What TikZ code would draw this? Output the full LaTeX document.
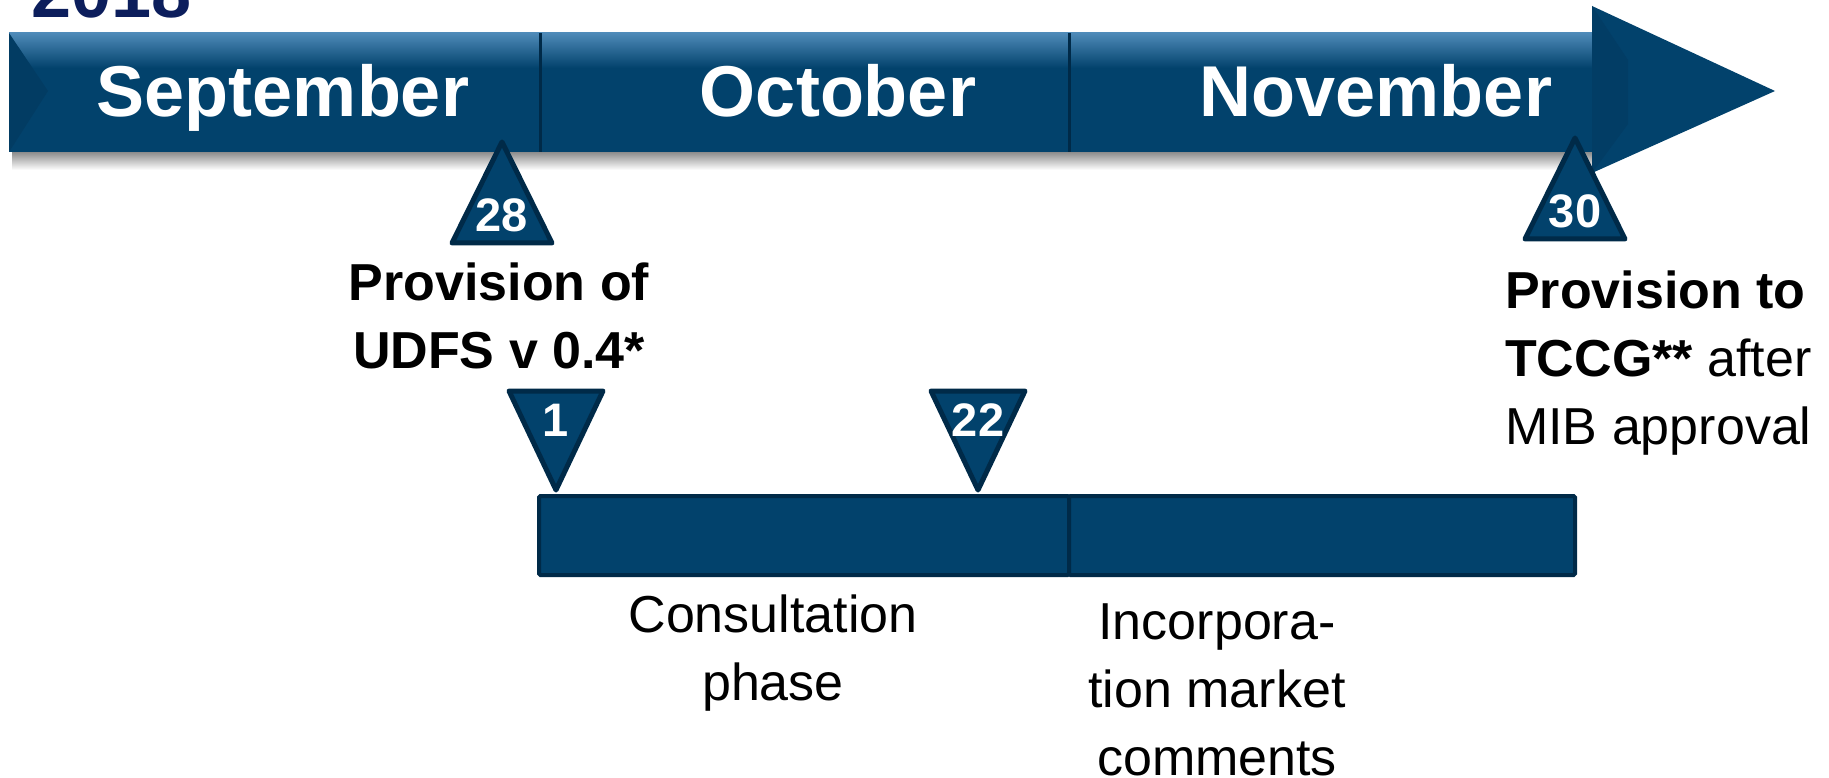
\documentclass[tikz,border=0pt]{standalone}
\usepackage{fontspec}
\setmainfont{Liberation Sans}
\usetikzlibrary{calc}

\definecolor{barblue}{RGB}{2,66,108}
\definecolor{barline}{RGB}{0,42,72}
\definecolor{barlight}{RGB}{78,138,184}
\definecolor{yearblue}{RGB}{12,30,92}

\tikzset{
  month/.style={text=white, font=\fontsize{72}{80}\selectfont\bfseries, anchor=base},
  daynum/.style={text=white, font=\fontsize{47}{50}\selectfont\bfseries, inner sep=0pt},
  caption/.style={font=\fontsize{52}{68}\selectfont, inner sep=0pt},
  marker/.style={fill=barblue, draw=barline, line width=5pt, line join=round},
  phasebar/.style={fill=barblue, draw=barline, line width=4pt, rounded corners=1.5pt},
}

\begin{document}
\begin{tikzpicture}[x=1pt, y=-1pt]
\useasboundingbox (0,0) rectangle (1829,778);

\node[anchor=base west, inner sep=0pt, text=yearblue, font=\fontsize{72}{80}\selectfont\bfseries] (year) at (31,18) {2018};

% main bar
\shade[top color=black!45, bottom color=white] (12,152) rectangle (1596,170);
\fill[barblue] (9,33) rectangle (1596,152);
\shade[top color=barlight, bottom color=barblue] (9,33) rectangle (1596,68);
\fill[barline!25!barblue] (9,33) -- (48,91) -- (9,152) -- cycle;
\fill[barblue] (1592,6) -- (1775,91) -- (1592,173) -- cycle;
\fill[barline!20!barblue] (1592,6) -- (1628,60) -- (1628,124) -- (1592,173) -- cycle;
\foreach \dx in {540, 1069}
    \draw[barline, line width=3pt] (\dx,33) -- (\dx,152);

\foreach \mname/\mx in {September/283, October/838, November/1376}
    \node[month] (m\mname) at (\mx,117) {\mname};

% day markers
\foreach \tx/\ty/\tname/\tday in {502/142/dsep/28, 1575/138/dnov/30}
{
    \draw[marker] (\tx,\ty) -- ++(-50,101) -- ++(100,0) -- cycle;
    \node[daynum] (\tname) at (\tx,\ty+73) {\tday};
}
\foreach \tx/\tname/\tday in {556/doct/1, 978/dend/22}
{
    \draw[marker] (\tx-47,391) -- (\tx+47,391) -- (\tx,490) -- cycle;
    \node[daynum] (\tname) at (\tx,420) {\tday};
}

% phases
\draw[phasebar] (539,496) rectangle (1069,575);
\draw[phasebar] (1069,496) rectangle (1575,575);

\node[caption, align=center, anchor=base] (udfs) at (499,368) {\bfseries Provision of\\\bfseries UDFS v 0.4*};
\node[caption, align=left, anchor=base west] (tccg) at (1505,444) {\bfseries Provision to\\\textbf{TCCG**} after\\MIB approval};
\node[caption, align=center, anchor=base] (consult) at (773,700) {Consultation\\phase};
\node[caption, align=center, anchor=base] (incorp) at (1217,775) {Incorpora-\\tion market\\comments};

\end{tikzpicture}
\end{document}
